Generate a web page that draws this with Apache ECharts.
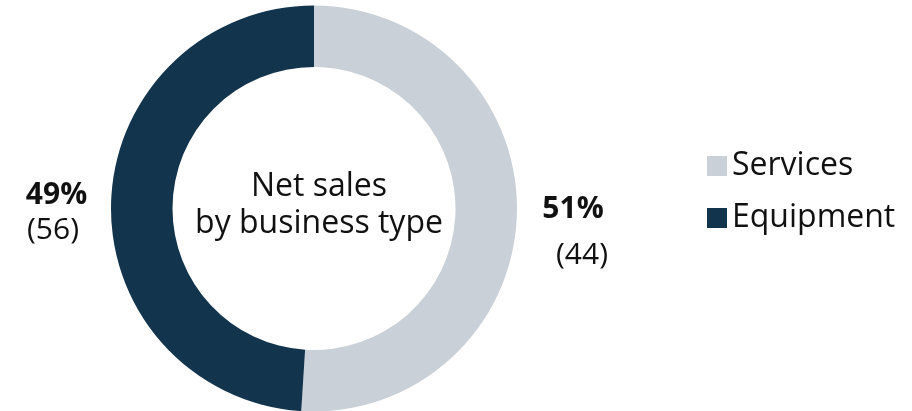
<!DOCTYPE html>
<html>
<head>
<meta charset="utf-8">
<script src="https://cdn.jsdelivr.net/npm/echarts@6/dist/echarts.min.js"></script>
<style>html,body{margin:0;padding:0;background:#fff;}#c{width:912px;height:411px;}</style>
</head>
<body>
<div id="c"></div>
<script>
const categories = ['Services', 'Equipment'];
const shares = [51, 49];
const amounts = [44, 56];
const centerTitle = 'Net sales\nby business type';
const colors = ['#c9d0d7', '#12344d'];

const chart = echarts.init(document.getElementById('c'), null, {renderer: 'canvas'});
const FONT = '"Open Sans", "Noto Sans", sans-serif';
chart.setOption({
  animation: false,
  color: colors,
  title: {
    text: centerTitle,
    left: 314, top: 163, textAlign: 'center',
    textStyle: {fontFamily: FONT, fontWeight: 'normal', fontSize: 32, lineHeight: 37, color: '#111'}
  },
  legend: {
    orient: 'vertical', left: 702, top: 145,
    itemWidth: 20, itemHeight: 20, itemGap: 20, icon: 'rect',
    textStyle: {fontFamily: FONT, fontSize: 32, color: '#111'},
    data: categories
  },
  series: [{
    type: 'pie',
    center: [314, 208.5],
    radius: [141.5, 203],
    startAngle: 90,
    clockwise: true,
    silent: true,
    label: {
      show: true, position: 'outside', fontFamily: FONT, color: '#111', overflow: 'none'
    },
    labelLine: {show: false},
    labelLayout: function (p) {
      return p.dataIndex === 0
        ? {x: 573, y: 237, align: 'center', verticalAlign: 'middle'}
        : {x: 53, y: 212, align: 'center', verticalAlign: 'middle'};
    },
    data: categories.map((c, i) => ({
      name: c, value: shares[i],
      label: {
        formatter: '{a|' + shares[i] + '%}\n{b|(' + amounts[i] + ')}',
        rich: i === 0 ? {
          a: {fontFamily: FONT, fontWeight: 'bold', fontSize: 30, lineHeight: 36, color: '#111'},
          b: {fontFamily: FONT, fontSize: 30, lineHeight: 56, color: '#111', padding: [0, 0, 0, 18]}
        } : {
          a: {fontFamily: FONT, fontWeight: 'bold', fontSize: 30, lineHeight: 36, color: '#111', padding: [0, 0, 0, 7]},
          b: {fontFamily: FONT, fontSize: 30, lineHeight: 34, color: '#111'}
        }
      }
    }))
  }]
});
</script>
</body>
</html>
